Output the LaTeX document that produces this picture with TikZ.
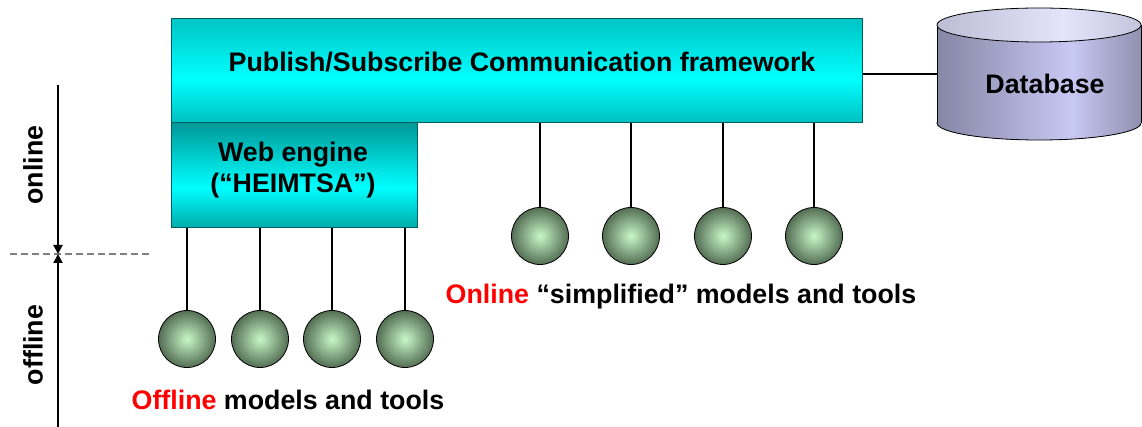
\documentclass[tikz,border=0pt]{standalone}
\usepackage{fontspec}
\setmainfont{Liberation Sans}
\usetikzlibrary{arrows.meta}
\definecolor{tealT}{HTML}{00C4C4}
\definecolor{tealB}{HTML}{00C0C0}
\definecolor{cyanL}{HTML}{00FFFF}
\definecolor{webT}{HTML}{009797}
\definecolor{webB}{HTML}{00AAAA}
\definecolor{boxline}{HTML}{005F5F}
\definecolor{cylD}{HTML}{8686A6}
\definecolor{cylL}{HTML}{C8C8F4}
\definecolor{cylR}{HTML}{9090B0}
\definecolor{capD}{HTML}{BCBCD4}
\definecolor{capL}{HTML}{E4E4FC}
\definecolor{capR}{HTML}{C4C4DC}
\definecolor{ballIn}{HTML}{C8F8C8}
\definecolor{ballOut}{HTML}{546E54}
\pgfdeclareverticalshading{pubshade}{100bp}{color(0bp)=(tealB); color(25bp)=(tealB); color(46bp)=(cyanL); color(75bp)=(tealT); color(100bp)=(tealT)}
\pgfdeclareverticalshading{webshade}{100bp}{color(0bp)=(webB); color(25bp)=(webB); color(44bp)=(cyanL); color(75bp)=(webT); color(100bp)=(webT)}
\pgfdeclarehorizontalshading{cylshade}{100bp}{color(0bp)=(cylD); color(25bp)=(cylD); color(58bp)=(cylL); color(75bp)=(cylR); color(100bp)=(cylR)}
\pgfdeclarehorizontalshading{capshade}{100bp}{color(0bp)=(capD); color(25bp)=(capD); color(56bp)=(capL); color(75bp)=(capR); color(100bp)=(capR)}
\begin{document}
\begin{tikzpicture}[x=1pt,y=-1pt,
  lbl/.style={font=\fontsize{26.8}{31}\selectfont\bfseries, inner sep=0pt},
  conn/.style={line width=2pt, black},
  ballnode/.style={circle, draw=black, line width=0.8pt, minimum size=57pt, inner sep=0pt, inner color=ballIn, outer color=ballOut},
  axisarrow/.style={line width=2pt, -{Triangle[length=9pt,width=9pt]}}]
\useasboundingbox (0,0) rectangle (1142,427);
% main boxes
\node[draw=boxline, line width=1.2pt, shading=pubshade, minimum width=691pt, minimum height=104pt, anchor=north west, inner sep=0pt] (pub) at (171,18) {};
\node[draw=boxline, line width=1.2pt, shading=webshade, minimum width=246pt, minimum height=105pt, anchor=north west, inner sep=0pt] (web) at (171,122) {};
\node[lbl] (pubtxt) at (522,62) {Publish/Subscribe Communication framework};
\node[lbl, align=center] (webtxt) at (293,170) {Web engine\\(“HEIMTSA”)};
% database cylinder
\fill[shading=cylshade] (1039,123) ellipse [x radius=102pt, y radius=17pt];
\draw[line width=0.8pt] (1039,123) ellipse [x radius=102pt, y radius=17pt];
\fill[shading=cylshade] (937,25) rectangle (1141,123);
\draw[line width=0.8pt] (937,25) -- (937,123) (1141,25) -- (1141,123);
\draw[line width=0.8pt, shading=capshade] (1039,25) ellipse [x radius=102pt, y radius=17pt];
\node[minimum width=204pt, minimum height=98pt, inner sep=0pt] (db) at (1039,74) {};
\node[lbl] (dbtxt) at (1045,84) {Database};
\draw[conn] (pub.east |- 0,74) -- (db.west |- 0,74);
% online balls
\foreach \i/\x in {1/540,2/631,3/723,4/814}{
  \node[ballnode] (on\i) at (\x,236) {};
  \draw[conn] (on\i.north) -- (on\i.north |- pub.south);
}
% offline balls
\foreach \i/\x in {1/187,2/260,3/332,4/405}{
  \node[ballnode] (off\i) at (\x,339) {};
  \draw[conn] (off\i.north) -- (off\i.north |- web.south);
}
\node[lbl] (onlbl) at (681,297) {\textcolor{red}{Online} “simplified” models and tools};
\node[lbl] (offlbl) at (288,400) {\textcolor{red}{Offline} models and tools};
% axis
\coordinate (axtop) at (58,85);
\coordinate (axmid) at (58,254);
\coordinate (axbot) at (58,427);
\coordinate (dl) at (10,254);
\coordinate (dr) at (150,254);
\draw[gray, line width=1.3pt, dash pattern=on 7pt off 4pt] (dl) -- (dr);
\draw[axisarrow] (axtop) -- (axmid);
\draw[axisarrow] (axbot) -- (axmid);
\node[lbl, rotate=90] (online) at (33,165) {online};
\node[lbl, rotate=90] (offline) at (33,345) {offline};
\end{tikzpicture}
\end{document}
